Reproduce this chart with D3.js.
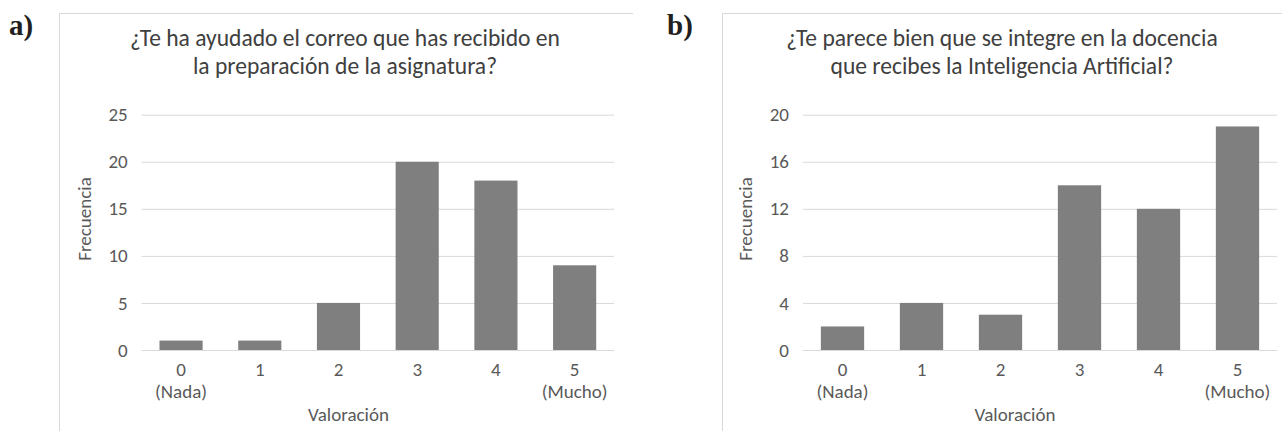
<!DOCTYPE html>
<html>
<head>
<meta charset="utf-8">
<script src="https://cdn.jsdelivr.net/npm/d3@7"></script>
<style>
  html, body { margin: 0; padding: 0; background: #fff; }
  svg { display: block; }
</style>
</head>
<body>
<svg id="chart" width="1282" height="431"></svg>
<script>
// ---- data ----
const categories = ["0", "1", "2", "3", "4", "5"];
const categorySubLabels = ["(Nada)", "", "", "", "", "(Mucho)"];
const valuesA = [1, 1, 5, 20, 18, 9];
const valuesB = [2, 4, 3, 14, 12, 19];
const ticksA = [0, 5, 10, 15, 20, 25];
const ticksB = [0, 4, 8, 12, 16, 20];
const titleA = ["¿Te ha ayudado el correo que has recibido en", "la preparación de la asignatura?"];
const titleB = ["¿Te parece bien que se integre en la docencia", "que recibes la Inteligencia Artificial?"];
const panelLetters = ["a)", "b)"];
const yTitle = "Frecuencia";
const xTitle = "Valoración";

const FONT = "Carlito, Calibri, Lato, 'Open Sans', sans-serif";
const svg = d3.select("#chart");

function fitFont(sel, target, base) {
  const w = sel.node().getComputedTextLength();
  return base * target / w;
}

// measure body and title font sizes
const probe = svg.append("text").attr("font-family", FONT).attr("font-size", 20).text(xTitle);
const bodySize = fitFont(probe, 81, 20);
probe.attr("font-size", 20).text(titleA[0]);
const titleSize = fitFont(probe, 430, 20);
probe.remove();

const panels = [
  { values: valuesA, ticks: ticksA, title: titleA, letter: panelLetters[0],
    frame: [59.5, 13.5, 633], plot: [141.7, 614], letterX: 9, titleCx: 345, xTitleCx: 348.5, yTitleX: 86 },
  { values: valuesB, ticks: ticksB, title: titleB, letter: panelLetters[1],
    frame: [722.5, 13.5, 1290], plot: [803, 1277], letterX: 667, titleCx: 1002, xTitleCx: 1015, yTitleX: 747 }
];

const yTop = 114.7, yBottom = 350;

panels.forEach(p => {
  const g = svg.append("g");
  // frame
  g.append("path")
    .attr("d", `M${p.frame[0]},440 V${p.frame[1]} H${p.frame[2]}`)
    .attr("fill", "none").attr("stroke", "#d9d9d9").attr("stroke-width", 1);

  // panel letter
  g.append("text").attr("x", p.letterX).attr("y", 35)
    .attr("font-family", "'Liberation Serif', 'Times New Roman', serif")
    .attr("font-weight", "bold").attr("font-size", 29).attr("fill", "#231f20")
    .text(p.letter);

  // title
  g.append("g").selectAll("text").data(p.title).join("text")
    .attr("x", p.titleCx).attr("y", (d, i) => 46 + i * 28)
    .attr("text-anchor", "middle").attr("font-family", FONT)
    .attr("font-size", titleSize).attr("fill", "#404040")
    .text(d => d);

  const x = d3.scaleBand().domain(categories).range(p.plot)
    .paddingInner(0.452).paddingOuter(0.226);
  const y = d3.scaleLinear().domain([0, d3.max(p.ticks)]).range([yBottom, yTop]);

  // gridlines + y tick labels
  const yAxis = d3.axisLeft(y).tickValues(p.ticks).tickSize(-(p.plot[1] - p.plot[0])).tickPadding(14);
  const ya = g.append("g").attr("transform", `translate(${p.plot[0]},0)`).call(yAxis);
  ya.select(".domain").remove();
  ya.selectAll(".tick line").attr("stroke", "#d9d9d9").attr("stroke-width", 1);
  ya.selectAll(".tick text").attr("font-family", FONT).attr("font-size", bodySize).attr("fill", "#595959");

  // bars
  g.append("g").selectAll("rect").data(p.values).join("rect")
    .attr("x", (d, i) => x(categories[i]))
    .attr("width", x.bandwidth())
    .attr("y", d => y(d))
    .attr("height", d => y(0) - y(d))
    .attr("fill", "#7f7f7f");

  // x axis labels
  const xAxis = d3.axisBottom(x).tickSize(0).tickPadding(0);
  const xa = g.append("g").attr("transform", `translate(0,${yBottom})`).call(xAxis);
  xa.select(".domain").remove();
  xa.selectAll(".tick text")
    .attr("dy", null).attr("y", 26)
    .attr("font-family", FONT).attr("font-size", bodySize).attr("fill", "#595959");

  g.append("g").selectAll("text").data(categorySubLabels.map((s, i) => ({ s, c: categories[i] })).filter(d => d.s))
    .join("text")
    .attr("x", d => x(d.c) + x.bandwidth() / 2)
    .attr("y", yBottom + 48)
    .attr("text-anchor", "middle").attr("font-family", FONT)
    .attr("font-size", bodySize).attr("fill", "#595959")
    .text(d => d.s);

  // axis titles
  g.append("text").attr("x", p.xTitleCx).attr("y", 421)
    .attr("text-anchor", "middle").attr("font-family", FONT)
    .attr("font-size", bodySize).attr("fill", "#595959").text(xTitle);
  g.append("text")
    .attr("transform", `translate(${p.yTitleX + 5},219) rotate(-90)`)
    .attr("text-anchor", "middle").attr("font-family", FONT)
    .attr("font-size", bodySize).attr("fill", "#595959").text(yTitle);
});
</script>
</body>
</html>
